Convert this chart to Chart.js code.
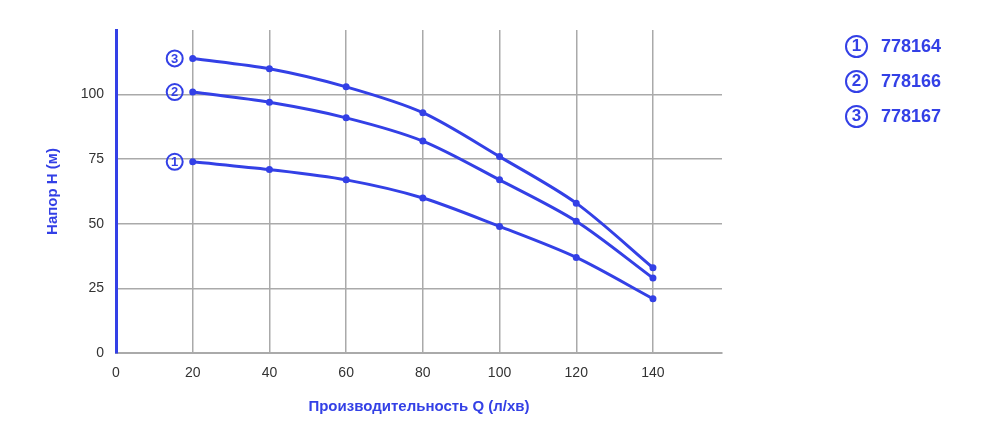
<!DOCTYPE html>
<html><head><meta charset="utf-8">
<script src="https://cdn.jsdelivr.net/npm/chart.js@4"></script>
<style>
body{margin:0;background:#fff;font-family:Arial,"Liberation Sans",sans-serif}
#wrap{position:relative;width:1000px;height:442px}
#legend{position:absolute;left:845px;top:29px;color:#3340e6;font-weight:bold;font-size:18px}
#legend div{height:35px;display:flex;align-items:center}
#legend span{display:inline-block;width:23px;height:23px;border:2.5px solid #3340e6;border-radius:50%;text-align:center;font-size:17px;margin-right:13px;box-sizing:border-box;line-height:18px}
</style></head><body>
<div id="wrap"><canvas id="c" width="1000" height="442"></canvas>
<div id="legend"></div></div>
<script>
const flow=[20,40,60,80,100,120,140];
const seriesNames=['778164','778166','778167'];
const head1=[74,71,67,60,49,37,21];
const head2=[101,97,91,82,67,51,29];
const head3=[114,110,103,93,76,58,33];
const yTicks=[0,25,50,75,100];
const xTicks=[0,20,40,60,80,100,120,140];
const blue='#3340e6';
document.getElementById('legend').innerHTML=seriesNames.map((n,i)=>`<div><span>${i+1}</span>${n}</div>`).join('');
const mk=(d)=>({data:flow.map((x,i)=>({x,y:d[i]})),borderColor:blue,backgroundColor:blue,borderWidth:3,pointRadius:2,tension:0.3});
const labelPlugin={id:'lbl',afterDatasetsDraw(ch){const c=ch.ctx;ch.data.datasets.forEach((ds,i)=>{const p=ch.getDatasetMeta(i).data[0];const x=p.x-18,y=p.y;c.save();c.strokeStyle=blue;c.lineWidth=2;c.beginPath();c.arc(x,y,8,0,Math.PI*2);c.stroke();c.fillStyle=blue;c.font='bold 13px Arial';c.textAlign='center';c.textBaseline='middle';c.fillText(String(i+1),x,y+0.5);c.restore();});}};
new Chart(document.getElementById('c'),{type:'line',data:{datasets:[mk(head1),mk(head2),mk(head3)]},
plugins:[labelPlugin],
options:{responsive:false,animation:false,layout:{padding:{top:30,right:278,left:40,bottom:22}},
plugins:{legend:{display:false},tooltip:{enabled:false}},
scales:{
x:{type:'linear',min:0,max:158,afterBuildTicks(s){s.ticks=xTicks.map(v=>({value:v}));},afterFit(s){s.height=67;},
 grid:{color:'#aaaaaa',lineWidth:1.5,drawTicks:false},border:{color:'#aaaaaa',width:2},
 ticks:{padding:12,color:'#333',font:{size:14}},
 title:{display:true,text:'Производительность Q (л/хв)',color:blue,font:{size:15,weight:'bold'},padding:{top:10}}},
y:{min:0,max:125,afterBuildTicks(s){s.ticks=yTicks.map(v=>({value:v}));},afterFit(s){s.width=76;},
 grid:{color:'#aaaaaa',lineWidth:1.5,drawTicks:false},border:{color:blue,width:3},
 ticks:{padding:12,color:'#333',font:{size:14}},
 title:{display:true,text:'Напор Н (м)',color:blue,font:{size:15,weight:'bold'},padding:{bottom:8}}}
}}});
</script></body></html>
